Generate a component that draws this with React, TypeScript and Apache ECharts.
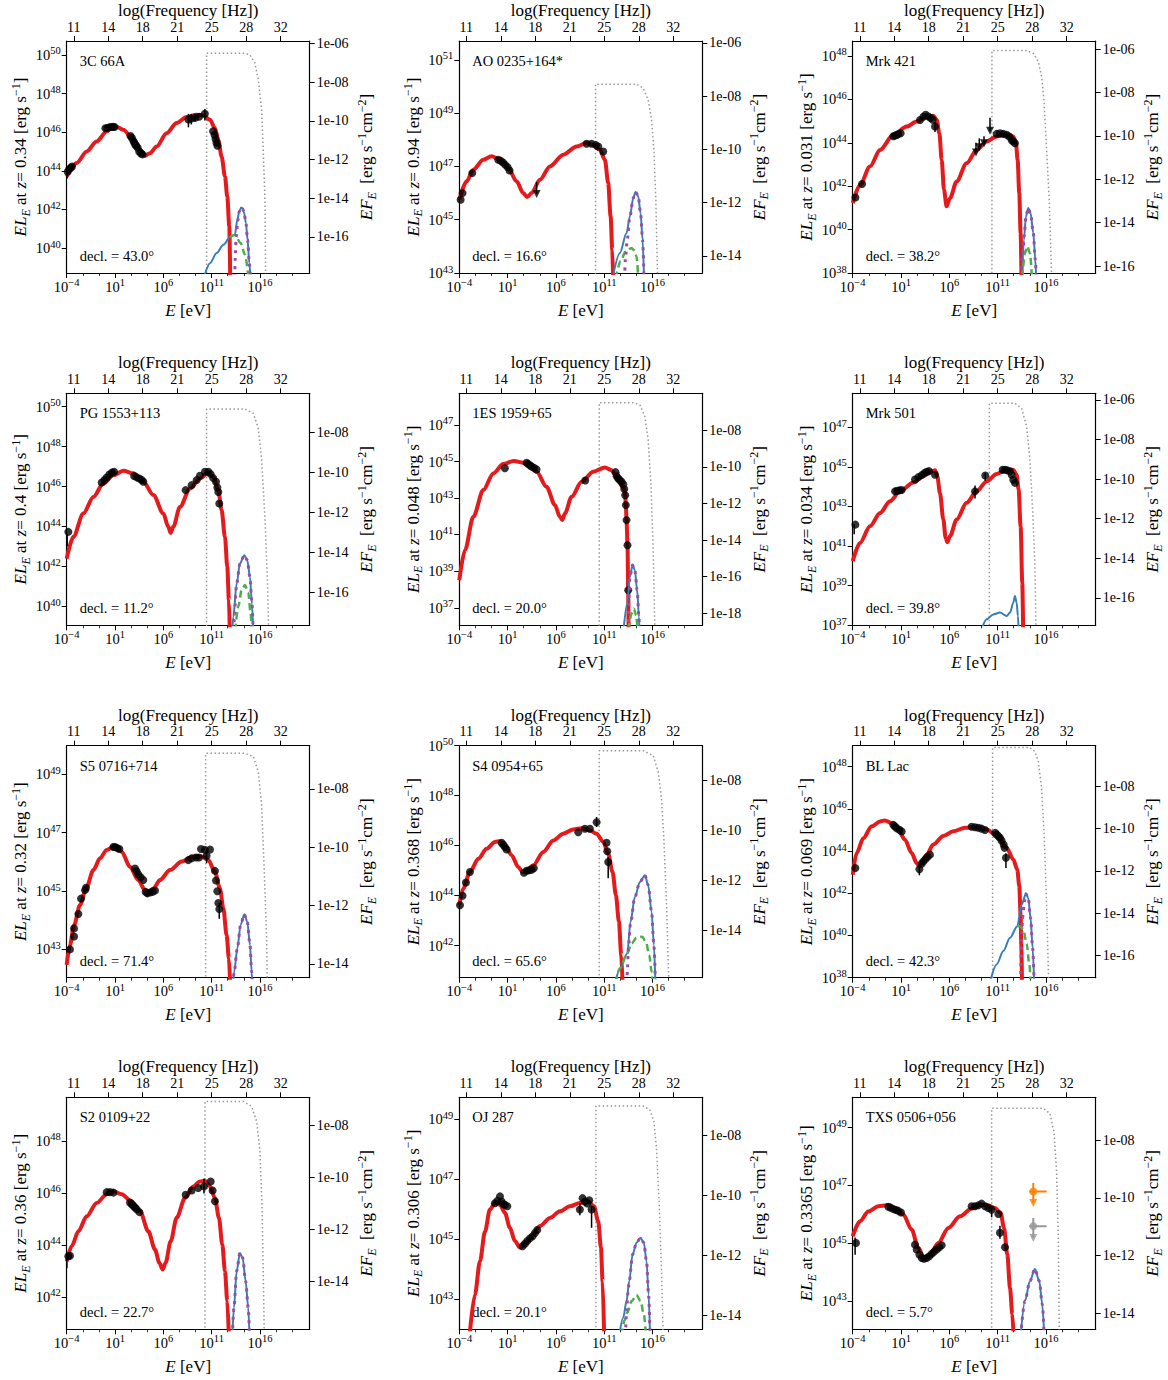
import React, { useEffect, useRef } from 'react';
import * as echarts from 'echarts';

const FONT = '"Liberation Serif", "Times New Roman", serif';

// ---- shared axis data (log10 E [eV]) ----
const X_MIN = -4;
const X_MAX = 21.15;
const X_MAJOR = [-4, 1, 6, 11, 16];
const X_MINOR = [-2.333, -0.667, 2.667, 4.333, 7.667, 9.333, 12.667, 14.333, 17.667, 19.333];
const FREQ_POS = [-3.27, 0.3, 3.87, 7.44, 11.01, 14.58, 18.15];
const FREQ_LABELS = ['11', '14', '18', '21', '25', '28', '32'];

const COL_LEFT = [66.7, 459.3, 852.7];
const ROW_TOP = [41, 393.3, 745.7, 1097.3];
const PW = 243;
const PH = 232;

const RED = '#e41a1c';
const BLUE = '#377eb8';
const GREEN = '#4daf4a';
const PURPLE = '#984ea3';
const GREY = '#999999';
const ORANGE = '#ff7f00';

// ---- 3C 66A ----
const c66aRed = [[-4,43.71],[-2.97,44.4],[-1.93,45.0],[-0.9,45.52],[0.14,46.03],[0.7,46.27],[1.3,46.25],[1.86,46.12],[2.9,45.6],[3.59,45.09],[4.1,44.78],[4.62,44.91],[5.31,45.26],[6.34,45.95],[7.38,46.47],[8.41,46.78],[9.45,46.9],[10.14,46.86],[10.83,46.64],[11.34,46.21],[11.69,45.6],[12.03,44.74],[12.38,43.71],[12.62,42.67],[12.83,41.12],[12.92,38.5]];
const c66aPts = [[-3.9,43.95],[-3.75,44.08],[-3.6,44.15],[-3.45,44.22],[0.0,46.2],[0.2,46.22],[0.4,46.25],[0.6,46.27],[0.8,46.28],[0.95,46.27],[2.6,45.8],[2.75,45.7],[2.9,45.55],[3.0,45.45],[3.1,45.35],[3.2,45.3],[3.35,45.2],[3.5,45.0],[3.7,44.9],[3.85,44.85],[8.6,46.65],[8.9,46.7],[9.3,46.75],[9.7,46.8],[10.3,46.95],[11.15,46.05],[11.3,45.85],[11.4,45.65],[11.5,45.45],[11.6,45.3]];
const c66aErr = [[-3.95,43.6,44.1],[8.6,46.25,46.95],[8.9,46.4,46.95],[9.3,46.55,46.95],[10.3,46.6,47.2]];
const c66aUl: number[][] = [];
const c66aBlue = [[10.21,38.5],[10.83,39.22],[11.52,39.74],[12.21,40.17],[12.9,40.57],[13.41,40.69],[13.66,41.47],[13.86,41.9],[14.05,42.1],[14.2,42.05],[14.35,41.85],[14.55,41.3],[14.72,40.43],[14.9,39.22],[15.02,38.5]];
const c66aPurple = [[13.4,38.5],[13.45,39.7],[13.55,40.6],[13.7,41.4],[13.86,41.9],[14.05,42.1],[14.2,42.05],[14.35,41.85],[14.55,41.3],[14.72,40.43],[14.9,39.22],[15.02,38.5]];
const c66aGreen = [[12.9,40.57],[13.41,40.69],[14.0,40.26],[14.45,39.66],[14.8,38.5]];
const c66aGrey = [[10.48,38.5],[10.48,50.09],[14.45,50.09],[14.97,50.0],[15.48,49.57],[15.83,48.71],[16.17,47.16],[16.34,45.09],[16.52,42.5],[16.59,38.5]];

// ---- AO 0235+164 ----
const aoRed = [[-4,45.75],[-3.24,46.44],[-2.55,46.88],[-1.52,47.25],[-0.66,47.38],[0.21,47.25],[1.07,46.94],[1.93,46.44],[2.62,46.0],[3.03,45.85],[3.48,46.0],[4.34,46.5],[5.38,47.0],[6.76,47.44],[8.14,47.75],[9.17,47.88],[9.86,47.81],[10.55,47.63],[11.07,47.25],[11.41,46.38],[11.66,45.13],[11.83,43.88],[11.92,42.8]];
const aoPts = [[-3.86,45.75],[-3.66,46.0],[-2.66,46.75],[0.03,47.25],[0.3,47.21],[0.52,47.15],[0.76,47.06],[1.0,46.97],[1.2,46.85],[9.17,47.85],[9.69,47.85],[10.14,47.8],[10.38,47.75],[10.9,47.56]];
const aoErr = [[4.0,45.97,46.42]];
const aoUl = [[4.0,45.97]];
const aoBlue = [[11.86,42.8],[12.62,43.75],[13.31,44.5],[13.66,45.13],[14.0,45.81],[14.24,46.04],[14.52,45.88],[14.76,45.25],[14.97,44.25],[15.12,42.8]];
const aoPurple = [[13.1,42.8],[13.21,43.63],[13.38,44.25],[13.66,45.13],[14.0,45.81],[14.24,46.04],[14.52,45.88],[14.76,45.25],[14.97,44.25],[15.12,42.8]];
const aoGreen = [[12.2,42.8],[12.7,43.45],[13.2,43.8],[13.83,43.94],[14.1,43.85],[14.34,43.63],[14.52,42.8]];
const aoGrey = [[10.1,42.8],[10.1,50.09],[14.34,50.09],[15.03,49.94],[15.55,49.5],[15.9,48.75],[16.14,47.63],[16.34,45.75],[16.52,42.8]];

// ---- Mrk 421 ----
const m421Red = [[-4,41.22],[-3.24,42.06],[-2.21,42.91],[-1.17,43.67],[0.21,44.37],[1.59,44.75],[2.62,44.98],[3.66,45.21],[4.34,45.24],[4.69,45.06],[4.97,44.44],[5.21,43.21],[5.45,41.83],[5.72,41.07],[6.07,41.45],[6.76,42.22],[7.79,43.06],[8.83,43.67],[9.86,44.06],[10.9,44.29],[11.93,44.37],[12.62,44.29],[12.9,43.98],[13.07,43.21],[13.24,41.68],[13.38,39.84],[13.47,37.8]];
const m421Pts = [[-3.72,41.48],[-3.03,42.1],[0.21,44.3],[0.38,44.33],[0.55,44.36],[0.72,44.4],[0.97,44.44],[2.97,45.05],[3.31,45.2],[3.55,45.29],[3.83,45.21],[4.07,45.14],[4.28,45.06],[4.52,44.75],[10.9,44.41],[11.24,44.44],[11.59,44.41],[11.93,44.37],[12.21,44.29],[12.45,44.13],[12.62,44.06],[12.79,43.98]];
const m421Err = [[4.52,44.5,44.95],[8.76,43.55,44.0],[9.1,43.8,44.2],[9.59,43.98,44.3],[10.21,44.55,45.15]];
const m421Ul = [[8.76,43.55],[9.1,43.8],[9.59,43.98],[10.21,44.55]];
const m421Blue = [[13.52,37.8],[13.72,39.53],[13.93,40.6],[14.17,40.99],[14.41,40.76],[14.69,39.84],[14.9,38.61],[14.99,37.8]];
const m421Purple = [[13.45,37.8],[13.6,38.9],[13.75,39.7],[13.93,40.6],[14.17,40.99],[14.41,40.76],[14.69,39.84],[14.9,38.61],[14.99,37.8]];
const m421Green = [[13.55,37.8],[13.83,38.92],[14.07,39.23],[14.34,38.92],[14.55,37.8]];
const m421Grey = [[10.41,37.8],[10.41,48.25],[14.0,48.25],[14.69,48.12],[15.21,47.74],[15.55,47.05],[15.79,45.98],[16.07,43.67],[16.34,41.37],[16.59,37.8]];

// ---- PG 1553+113 ----
const pgRed = [[-4,42.39],[-3.31,43.48],[-2.28,44.65],[-1.24,45.48],[-0.21,46.15],[0.83,46.57],[1.86,46.79],[2.9,46.66],[3.93,46.24],[4.97,45.57],[6.0,44.65],[6.52,43.98],[6.76,43.68],[7.03,43.98],[7.72,44.98],[8.76,45.9],[9.79,46.4],[10.66,46.69],[11.17,46.49],[11.69,45.82],[12.03,44.82],[12.38,43.48],[12.62,41.97],[12.79,40.3],[12.88,38.8]];
const pgPts = [[-3.83,43.73],[-0.38,46.2],[-0.1,46.33],[0.14,46.45],[0.41,46.6],[0.69,46.7],[0.9,46.74],[2.97,46.53],[3.24,46.46],[3.52,46.4],[3.76,46.33],[3.93,46.24],[8.31,45.82],[8.93,46.07],[9.45,46.32],[9.79,46.54],[10.31,46.74],[10.66,46.74],[10.9,46.62],[11.17,46.42],[11.45,46.24],[11.59,45.95],[11.69,45.73],[11.79,45.15]];
const pgErr = [[-3.95,43.0,43.6]];
const pgUl: number[][] = [];
const pgBlue = [[13.14,38.8],[13.24,39.47],[13.59,41.14],[13.93,42.14],[14.38,42.56],[14.69,42.31],[14.97,41.47],[15.17,40.13],[15.3,38.8]];
const pgPurple = [[13.3,38.8],[13.35,39.6],[13.59,41.14],[13.93,42.14],[14.38,42.56],[14.69,42.31],[14.97,41.47],[15.17,40.13],[15.3,38.8]];
const pgGreen = [[13.45,38.8],[13.76,40.0],[14.1,40.79],[14.45,41.07],[14.79,40.69],[15.03,39.7],[15.14,38.8]];
const pgGrey = [[10.48,38.8],[10.48,49.88],[14.45,49.88],[15.31,49.67],[15.83,48.91],[16.17,47.41],[16.52,44.4],[16.79,41.14],[16.9,38.8]];

// ---- 1ES 1959+65 ----
const es1959Red = [[-4,38.51],[-3.41,40.16],[-2.55,41.98],[-1.52,43.44],[-0.48,44.35],[0.55,44.86],[1.59,45.03],[2.97,44.9],[4.0,44.44],[5.03,43.62],[5.9,42.62],[6.41,41.98],[6.66,41.8],[6.93,42.16],[7.62,43.07],[8.66,43.89],[9.86,44.44],[11.07,44.68],[11.76,44.53],[12.28,44.15],[12.55,43.89],[12.9,43.6],[13.07,43.5],[13.17,43.16],[13.24,42.62],[13.31,41.8],[13.41,40.43],[13.48,37.97],[13.52,35.8]];
const es1959Pts = [[0.72,44.63],[2.97,44.93],[3.14,44.86],[3.31,44.8],[3.48,44.73],[3.72,44.66],[4.0,44.57],[9.03,43.96],[12.17,44.42],[12.28,44.2],[12.45,44.07],[12.62,43.98],[12.79,43.9],[12.97,43.76],[13.07,43.5],[13.17,43.16],[13.24,42.62],[13.31,41.8],[13.41,40.43],[13.48,37.97]];
const es1959Err: number[][] = [];
const es1959Ul: number[][] = [];
const es1959Blue = [[13.0,35.8],[13.38,37.24],[13.66,38.7],[13.93,39.34],[14.17,39.06],[14.41,37.97],[14.59,36.51],[14.65,35.8]];
const es1959Purple = [[13.5,35.8],[13.55,37.5],[13.66,38.7],[13.93,39.34],[14.17,39.06],[14.41,37.97],[14.59,36.51],[14.65,35.8]];
const es1959Green = [[13.5,35.8],[13.83,36.69],[14.07,36.96],[14.3,36.6],[14.45,35.8]];
const es1959Grey = [[10.48,35.8],[10.48,48.22],[14.0,48.22],[14.69,48.09],[15.21,47.45],[15.55,46.18],[15.83,43.81],[16.07,40.16],[16.24,35.8]];

// ---- Mrk 501 ----
const m501Red = [[-4,40.24],[-3.24,41.16],[-2.21,42.0],[-1.17,42.67],[-0.14,43.26],[0.9,43.76],[2.28,44.21],[3.31,44.52],[4.17,44.77],[4.52,44.82],[4.76,44.52],[5.03,43.68],[5.38,42.34],[5.62,41.41],[5.79,41.19],[6.07,41.5],[6.76,42.34],[7.79,43.18],[8.83,43.76],[9.86,44.26],[10.9,44.64],[11.93,44.85],[12.62,44.85],[12.97,44.6],[13.17,43.85],[13.38,42.0],[13.55,39.15],[13.64,36.8]];
const m501Pts = [[-3.72,42.08],[0.38,43.76],[0.62,43.79],[0.83,43.81],[1.07,43.83],[2.45,44.36],[2.79,44.48],[3.14,44.58],[3.41,44.68],[3.66,44.75],[3.9,44.78],[4.52,44.6],[8.66,43.76],[9.72,44.56],[11.52,44.85],[11.76,44.85],[12.0,44.82],[12.28,44.77],[12.45,44.6],[12.62,44.35],[12.79,44.19]];
const m501Err = [[-3.85,41.6,42.1],[8.66,43.4,44.05],[9.72,44.3,44.7]];
const m501Ul: number[][] = [];
const m501Blue = [[9.34,36.8],[9.86,37.3],[10.55,37.55],[11.24,37.64],[11.93,37.47],[12.28,37.64],[12.62,38.14],[12.79,38.48],[12.97,38.14],[13.1,37.47],[13.17,36.8]];
const m501Purple: number[][] = [];
const m501Green: number[][] = [];
const m501Grey = [[10.14,36.8],[10.14,48.21],[12.79,48.21],[13.48,47.96],[14.0,47.03],[14.34,45.36],[14.62,42.84],[14.86,39.99],[14.97,36.8]];

// ---- S5 0716+714 ----
const s5Red = [[-4,42.47],[-3.66,43.15],[-3.24,43.83],[-2.62,44.52],[-1.93,45.15],[-1.24,45.72],[-0.55,46.12],[0.14,46.41],[1.0,46.55],[1.69,46.35],[2.55,45.83],[3.41,45.38],[4.1,45.03],[4.45,44.97],[4.97,45.09],[5.66,45.38],[6.69,45.72],[7.9,46.01],[9.1,46.18],[9.97,46.18],[10.66,46.06],[11.34,45.66],[11.86,45.09],[12.21,44.41],[12.55,43.49],[12.79,42.69],[12.92,41.8]];
const s5Pts = [[-3.66,43.0],[-3.24,43.44],[-3.24,43.72],[-2.79,44.21],[-2.52,44.74],[-2.1,45.03],[-2.0,45.11],[0.83,46.51],[1.0,46.51],[1.24,46.47],[1.45,46.44],[3.07,45.77],[3.24,45.68],[3.41,45.57],[3.66,45.47],[3.93,45.38],[4.17,44.97],[4.34,44.92],[4.62,44.95],[4.9,44.97],[5.14,45.02],[8.59,46.06],[8.93,46.12],[9.38,46.15],[9.69,46.15],[9.9,46.44],[10.31,46.41],[10.48,46.21],[10.83,46.42],[11.34,45.69],[11.45,45.36],[11.59,44.99],[11.69,44.59],[11.79,44.38]];
const s5Err = [[10.48,45.95,46.45],[11.79,44.05,44.6],[4.34,44.8,45.05]];
const s5Ul: number[][] = [];
const s5Blue = [[13.2,41.8],[13.34,42.24],[13.66,43.04],[14.0,43.84],[14.38,44.2],[14.69,43.95],[14.97,43.15],[15.14,42.24],[15.2,41.8]];
const s5Purple = [[13.2,41.8],[13.34,42.24],[13.66,43.04],[14.0,43.84],[14.38,44.2],[14.69,43.95],[14.97,43.15],[15.14,42.24],[15.2,41.8]];
const s5Green: number[][] = [];
const s5Grey = [[10.38,41.8],[10.38,49.72],[14.45,49.72],[15.31,49.61],[15.83,49.09],[16.17,47.95],[16.45,45.66],[16.69,43.38],[16.76,41.8]];

// ---- S4 0954+65 ----
const s4Red = [[-4,43.62],[-3.59,44.29],[-2.9,44.95],[-2.03,45.48],[-1.17,45.88],[-0.31,46.15],[0.21,46.18],[0.72,46.02],[1.41,45.62],[2.1,45.15],[2.55,44.95],[2.97,45.02],[3.66,45.22],[4.69,45.75],[5.72,46.21],[6.76,46.48],[7.79,46.65],[8.66,46.7],[9.52,46.61],[10.21,46.48],[10.9,46.15],[11.41,45.68],[11.86,44.95],[12.21,44.02],[12.52,42.96],[12.76,41.63],[12.9,40.5]];
const s4Pts = [[-3.93,43.62],[-3.66,44.0],[-3.31,44.53],[-2.9,44.95],[0.38,46.12],[0.55,46.04],[0.72,45.95],[0.9,45.85],[2.69,44.92],[2.97,45.0],[3.24,45.02],[3.48,45.04],[3.72,45.1],[8.31,46.54],[9.0,46.68],[9.52,46.68],[10.21,46.94],[11.24,46.12],[11.31,45.78],[11.41,45.35]];
const s4Err = [[10.21,46.75,47.15],[11.41,44.7,45.55],[-4.0,43.3,43.7]];
const s4Ul: number[][] = [];
const s4Blue = [[12.14,40.5],[12.62,41.09],[13.38,41.69],[13.72,42.95],[14.17,43.95],[14.69,44.55],[15.21,44.82],[15.55,44.42],[15.9,43.36],[16.14,42.03],[16.3,40.5]];
const s4Purple = [[13.36,40.5],[13.4,41.1],[13.5,41.9],[13.72,42.9],[14.17,43.95],[14.69,44.55],[15.21,44.82],[15.55,44.42],[15.9,43.36],[16.14,42.03],[16.3,40.5]];
const s4Green = [[12.14,40.5],[12.62,41.09],[13.38,41.69],[13.83,42.09],[14.34,42.32],[14.93,42.36],[15.31,42.16],[15.66,41.63],[15.9,40.96],[16.0,40.5]];
const s4Grey = [[10.48,40.5],[10.48,49.8],[15.03,49.8],[16.07,49.6],[16.59,48.94],[16.93,47.87],[17.17,46.28],[17.45,43.62],[17.69,40.5]];

// ---- BL Lac ----
const bllRed = [[-4,42.88],[-3.59,43.91],[-2.9,44.61],[-2.03,45.17],[-1.17,45.4],[-0.66,45.45],[0.03,45.32],[0.72,45.0],[1.41,44.54],[2.1,43.91],[2.62,43.43],[2.9,43.27],[3.14,43.43],[3.66,43.83],[4.34,44.31],[5.38,44.71],[6.41,44.94],[7.62,45.1],[8.83,45.15],[9.86,45.02],[10.9,44.74],[11.93,44.16],[12.62,43.6],[13.03,43.13],[13.24,42.35],[13.38,40.93],[13.45,39.57],[13.52,37.8]];
const bllPts = [[-3.72,43.2],[0.21,45.24],[0.38,45.16],[0.55,45.08],[0.83,45.01],[1.07,44.93],[2.9,43.14],[3.14,43.4],[3.31,43.51],[3.55,43.62],[3.76,43.73],[4.0,43.83],[8.31,45.15],[8.66,45.13],[9.0,45.1],[9.34,45.06],[9.69,45.0],[10.76,44.86],[10.9,44.78],[11.07,44.7],[11.24,44.63],[11.41,44.5],[11.62,44.31],[11.72,44.15],[11.86,43.68]];
const bllErr = [[2.9,42.85,43.4],[11.86,43.2,43.9]];
const bllUl: number[][] = [];
const bllBlue = [[10.21,37.8],[10.9,38.63],[11.59,39.26],[12.28,39.89],[13.03,40.44],[13.48,41.46],[13.93,41.98],[14.17,41.78],[14.41,40.83],[14.62,39.42],[14.78,37.8]];
const bllPurple = [[13.38,37.8],[13.45,39.57],[13.59,40.83],[13.76,41.6],[13.93,41.98],[14.17,41.78],[14.41,40.83],[14.62,39.42],[14.78,37.8]];
const bllGreen = [[13.03,40.44],[13.31,40.44],[13.66,40.28],[14.0,39.61],[14.28,38.66],[14.41,37.8]];
const bllGrey = [[10.48,37.8],[10.48,48.9],[14.34,48.9],[14.86,48.71],[15.21,48.24],[15.55,46.98],[15.83,44.61],[16.07,41.46],[16.28,37.8]];

// ---- S2 0109+22 ----
const s2Red = [[-4,43.37],[-3.48,43.95],[-2.79,44.52],[-1.93,45.1],[-0.9,45.61],[0.14,45.95],[0.83,46.06],[1.69,45.95],[2.72,45.67],[3.59,45.29],[4.45,44.52],[5.14,43.82],[5.59,43.31],[5.93,43.05],[6.24,43.31],[6.76,44.14],[7.38,45.04],[8.24,45.8],[9.1,46.25],[9.79,46.44],[10.31,46.47],[10.83,46.25],[11.34,45.8],[11.76,45.04],[12.1,44.02],[12.38,42.99],[12.62,41.84],[12.78,40.5]];
const s2Pts = [[-3.83,43.56],[-3.66,43.58],[0.14,46.03],[0.48,46.03],[0.83,46.01],[2.55,45.63],[2.72,45.56],[2.9,45.5],[3.07,45.44],[3.24,45.37],[3.52,45.26],[8.31,45.93],[8.93,46.09],[9.62,46.19],[10.21,46.25],[10.9,46.44],[11.1,46.09],[11.34,45.68]];
const s2Err = [[-3.98,43.1,43.5],[10.21,45.98,46.55]];
const s2Ul: number[][] = [];
const s2Blue = [[13.14,40.5],[13.31,41.58],[13.59,42.99],[13.93,43.69],[14.21,43.5],[14.52,42.6],[14.79,41.58],[14.92,40.5]];
const s2Purple = [[13.14,40.5],[13.31,41.58],[13.59,42.99],[13.93,43.69],[14.21,43.5],[14.52,42.6],[14.79,41.58],[14.92,40.5]];
const s2Green: number[][] = [];
const s2Grey = [[10.31,40.5],[10.31,49.52],[14.28,49.52],[15.14,49.33],[15.66,48.75],[16.0,47.6],[16.21,45.56],[16.34,43.0],[16.45,40.5]];

// ---- OJ 287 ----
const ojRed = [[-2.93,41.8],[-2.38,43.16],[-1.86,44.27],[-1.34,45.26],[-0.83,45.99],[-0.31,46.21],[0.21,46.15],[0.72,45.88],[1.24,45.38],[1.76,44.94],[2.28,44.72],[2.79,44.83],[3.48,45.1],[4.34,45.44],[5.38,45.71],[6.41,45.93],[7.45,46.1],[8.48,46.21],[9.34,46.27],[9.93,46.1],[10.38,45.6],[10.66,44.72],[10.83,43.61],[10.99,41.8]];
const ojPts = [[-0.31,46.2],[-0.07,46.28],[0.21,46.43],[0.38,46.26],[0.55,46.17],[0.72,46.15],[0.97,46.1],[2.55,44.77],[2.79,44.85],[3.03,44.94],[3.31,45.03],[3.59,45.1],[3.83,45.21],[4.07,45.31],[8.48,45.99],[8.76,46.37],[9.0,46.26],[9.24,46.19],[9.45,46.3],[9.69,45.99]];
const ojErr = [[8.48,45.8,46.2],[9.69,45.38,46.1]];
const ojUl: number[][] = [];
const ojBlue = [[12.55,41.8],[12.97,42.39],[13.31,42.94],[13.59,43.61],[13.93,44.49],[14.34,44.88],[14.76,45.05],[15.1,44.88],[15.38,44.27],[15.59,43.16],[15.74,41.8]];
const ojPurple = [[13.2,41.8],[13.31,42.6],[13.45,43.2],[13.59,43.61],[13.93,44.49],[14.34,44.88],[14.76,45.05],[15.1,44.88],[15.38,44.27],[15.59,43.16],[15.74,41.8]];
const ojGreen = [[12.8,41.8],[13.1,42.3],[13.38,42.55],[13.83,42.94],[14.34,43.14],[14.76,42.94],[15.1,42.5],[15.31,41.8]];
const ojGrey = [[10.14,41.8],[10.14,49.44],[15.03,49.44],[15.72,49.31],[16.14,48.92],[16.41,48.03],[16.69,46.15],[16.93,43.94],[17.1,41.8]];

// ---- TXS 0506+056 ----
const txsRed = [[-4,45.24],[-3.24,45.76],[-2.38,46.1],[-1.34,46.28],[-0.48,46.31],[0.38,46.22],[1.24,45.99],[2.1,45.47],[2.79,44.84],[3.38,44.49],[4.0,44.61],[4.86,45.01],[5.9,45.53],[7.1,45.93],[8.31,46.2],[9.34,46.33],[10.03,46.31],[10.72,46.22],[11.31,46.05],[11.66,45.53],[12.0,44.61],[12.28,43.46],[12.52,42.54],[12.65,41.8]];
const txsPts = [[-3.66,45.01],[-0.31,46.26],[-0.07,46.23],[0.21,46.18],[0.48,46.15],[0.72,46.12],[1.0,46.06],[2.45,44.95],[2.62,44.78],[2.9,44.61],[3.14,44.49],[3.38,44.46],[3.66,44.49],[3.93,44.55],[4.17,44.63],[4.41,44.7],[4.69,44.78],[4.97,44.86],[5.21,44.93],[8.31,46.28],[8.66,46.28],[9.0,46.31],[9.34,46.37],[9.69,46.28],[10.03,46.22],[10.38,46.16],[11.07,46.01],[11.24,45.36],[11.76,44.86]];
const txsErr = [[-3.75,44.6,45.2],[10.38,45.9,46.3],[11.24,45.15,45.6]];
const txsUl: number[][] = [];
const txsBlue = [[13.38,41.8],[13.83,43.0],[14.34,43.69],[14.86,44.11],[15.31,43.69],[15.62,42.89],[15.82,41.8]];
const txsPurple = [[13.38,41.8],[13.83,43.0],[14.34,43.69],[14.86,44.11],[15.31,43.69],[15.62,42.89],[15.82,41.8]];
const txsGreen: number[][] = [];
const txsGrey = [[10.38,41.8],[10.38,49.67],[15.72,49.67],[16.41,49.49],[16.83,48.86],[17.1,47.48],[17.28,45.18],[17.38,41.8]];
// neutrino flux limits: [logE, logL, errLow, errHigh, eLow, eHigh]
const txsOrangeLim = [[14.69, 46.79, 46.39, 47.08, 14.28, 16.07]];
const txsGreyLim = [[14.69, 45.59, 45.18, 45.87, 14.28, 16.07]];

const PANELS = [
  { name: '3C 66A', z: '0.34', decl: '43.0', yMin: 38.71, yMax: 50.72, off: 56.58, lt: [40,42,44,46,48,50], rt: [-6,-8,-10,-12,-14,-16], red: c66aRed, pts: c66aPts, err: c66aErr, ul: c66aUl, blue: c66aBlue, purple: c66aPurple, green: c66aGreen, grey: c66aGrey },
  { name: 'AO 0235+164*', z: '0.94', decl: '16.6', yMin: 43, yMax: 51.71, off: 57.64, lt: [43,45,47,49,51], rt: [-6,-8,-10,-12,-14], red: aoRed, pts: aoPts, err: aoErr, ul: aoUl, blue: aoBlue, purple: aoPurple, green: aoGreen, grey: aoGrey },
  { name: 'Mrk 421', z: '0.031', decl: '38.2', yMin: 38, yMax: 48.69, off: 54.32, lt: [38,40,42,44,46,48], rt: [-6,-8,-10,-12,-14,-16], red: m421Red, pts: m421Pts, err: m421Err, ul: m421Ul, blue: m421Blue, purple: m421Purple, green: m421Green, grey: m421Grey },
  { name: 'PG 1553+113', z: '0.4', decl: '11.2', yMin: 39.05, yMax: 50.67, off: 56.7, lt: [40,42,44,46,48,50], rt: [-8,-10,-12,-14,-16], red: pgRed, pts: pgPts, err: pgErr, ul: pgUl, blue: pgBlue, purple: pgPurple, green: pgGreen, grey: pgGrey },
  { name: '1ES 1959+65', z: '0.048', decl: '20.0', yMin: 36.05, yMax: 48.73, off: 54.71, lt: [37,39,41,43,45,47], rt: [-8,-10,-12,-14,-16,-18], red: es1959Red, pts: es1959Pts, err: es1959Err, ul: es1959Ul, blue: es1959Blue, purple: es1959Purple, green: es1959Green, grey: es1959Grey },
  { name: 'Mrk 501', z: '0.034', decl: '39.8', yMin: 37, yMax: 48.71, off: 54.38, lt: [37,39,41,43,45,47], rt: [-6,-8,-10,-12,-14,-16], red: m501Red, pts: m501Pts, err: m501Err, ul: m501Ul, blue: m501Blue, purple: m501Purple, green: m501Green, grey: m501Grey },
  { name: 'S5 0716+714', z: '0.32', decl: '71.4', yMin: 42.03, yMax: 49.98, off: 56.5, lt: [43,45,47,49], rt: [-8,-10,-12,-14], red: s5Red, pts: s5Pts, err: s5Err, ul: s5Ul, blue: s5Blue, purple: s5Purple, green: s5Green, grey: s5Grey },
  { name: 'S4 0954+65', z: '0.368', decl: '65.6', yMin: 40.72, yMax: 50.0, off: 56.61, lt: [42,44,46,48,50], rt: [-8,-10,-12,-14], red: s4Red, pts: s4Pts, err: s4Err, ul: s4Ul, blue: s4Blue, purple: s4Purple, green: s4Green, grey: s4Grey },
  { name: 'BL Lac', z: '0.069', decl: '42.3', yMin: 38, yMax: 48.99, off: 55.06, lt: [38,40,42,44,46,48], rt: [-8,-10,-12,-14,-16], red: bllRed, pts: bllPts, err: bllErr, ul: bllUl, blue: bllBlue, purple: bllPurple, green: bllGreen, grey: bllGrey },
  { name: 'S2 0109+22', z: '0.36', decl: '22.7', yMin: 40.75, yMax: 49.68, off: 56.6, lt: [42,44,46,48], rt: [-8,-10,-12,-14], red: s2Red, pts: s2Pts, err: s2Err, ul: s2Ul, blue: s2Blue, purple: s2Purple, green: s2Green, grey: s2Grey },
  { name: 'OJ 287', z: '0.306', decl: '20.1', yMin: 42.0, yMax: 49.73, off: 56.46, lt: [43,45,47,49], rt: [-8,-10,-12,-14], red: ojRed, pts: ojPts, err: ojErr, ul: ojUl, blue: ojBlue, purple: ojPurple, green: ojGreen, grey: ojGrey },
  { name: 'TXS 0506+056', z: '0.3365', decl: '5.7', yMin: 42.02, yMax: 50.05, off: 56.57, lt: [43,45,47,49], rt: [-8,-10,-12,-14], red: txsRed, pts: txsPts, err: txsErr, ul: txsUl, blue: txsBlue, purple: txsPurple, green: txsGreen, grey: txsGrey },
];

const MINUS = '\u2212';

const tickRich = {
  b: { fontFamily: FONT, fontSize: 14.5, lineHeight: 19, color: '#000' },
  s: { fontFamily: FONT, fontSize: 10.5, lineHeight: 11, verticalAlign: 'top', color: '#000' },
};

const nameStyle = () => ({
  fontFamily: FONT,
  fontSize: 17,
  lineHeight: 22,
  color: '#000',
  rich: {
    i: { fontFamily: FONT, fontSize: 17, fontStyle: 'italic', lineHeight: 22, color: '#000' },
    sub: { fontFamily: FONT, fontSize: 12, fontStyle: 'italic', lineHeight: 16, verticalAlign: 'bottom', color: '#000' },
    sup: { fontFamily: FONT, fontSize: 12, lineHeight: 14, verticalAlign: 'top', color: '#000' },
  },
});

const axisLineStyle = { show: true, onZero: false, lineStyle: { color: '#000', width: 1.2 } };

function powLabel(v: number) {
  const n = Math.round(v);
  return '{b|10}{s|' + (n < 0 ? MINUS + Math.abs(n) : String(n)) + '}';
}

function lineSeries(data: number[][], xi: number, yi: number, color: string, width: number, type: any, smooth: number, z: number) {
  return {
    type: 'line', xAxisIndex: xi, yAxisIndex: yi, data, showSymbol: false, symbol: 'none',
    lineStyle: { color, width, type, cap: 'butt' }, smooth, smoothMonotone: smooth ? 'x' : undefined,
    z, silent: true, clip: true, animation: false,
  };
}

function segSeries(segs: number[][], xi: number, yi: number, color: string, width: number, z: number) {
  return {
    type: 'custom', xAxisIndex: xi, yAxisIndex: yi, clip: true, silent: true, z,
    data: segs,
    renderItem: (_p: any, api: any) => {
      const a = api.coord([api.value(0), api.value(1)]);
      const b = api.coord([api.value(2), api.value(3)]);
      return { type: 'line', shape: { x1: a[0], y1: a[1], x2: b[0], y2: b[1] }, style: { stroke: color, lineWidth: width } };
    },
  };
}

function scatterSeries(data: number[][], xi: number, yi: number, color: string, symbol: string, size: number, rotate: number, z: number) {
  return {
    type: 'scatter', xAxisIndex: xi, yAxisIndex: yi, data, symbol, symbolSize: size, symbolRotate: rotate,
    itemStyle: { color }, z, silent: true, clip: true,
  };
}

function buildOption() {
  const grid: any[] = [];
  const xAxis: any[] = [];
  const yAxis: any[] = [];
  const series: any[] = [];
  const graphic: any[] = [];

  PANELS.forEach((p, i) => {
    const col = i % 3;
    const row = Math.floor(i / 3);
    const left = COL_LEFT[col];
    const top = ROW_TOP[row];
    grid.push({ left, top, width: PW, height: PH, containLabel: false });

    const xb = xAxis.length;
    xAxis.push({
      gridIndex: i, type: 'value', position: 'bottom', min: X_MIN, max: X_MAX,
      axisLine: axisLineStyle,
      axisTick: { show: true, customValues: X_MAJOR, length: 5, lineStyle: { color: '#000', width: 1 } },
      axisLabel: { show: true, customValues: X_MAJOR, formatter: (v: number) => powLabel(v), margin: 4, rich: tickRich, fontFamily: FONT, fontSize: 14.5, color: '#000' },
      splitLine: { show: false },
      name: '{i|E} [eV]', nameLocation: 'middle', nameGap: 26, nameTextStyle: nameStyle(),
    });
    xAxis.push({
      gridIndex: i, type: 'value', position: 'top', min: X_MIN, max: X_MAX,
      axisLine: axisLineStyle,
      axisTick: { show: true, customValues: FREQ_POS, length: 5, lineStyle: { color: '#000', width: 1 } },
      axisLabel: {
        show: true, customValues: FREQ_POS, margin: 7, fontFamily: FONT, fontSize: 14, color: '#000',
        formatter: (v: number) => {
          let best = 0;
          FREQ_POS.forEach((f, k) => { if (Math.abs(f - v) < Math.abs(FREQ_POS[best] - v)) best = k; });
          return FREQ_LABELS[best];
        },
      },
      splitLine: { show: false },
      name: 'log(Frequency [Hz])', nameLocation: 'middle', nameGap: 21,
      nameTextStyle: { fontFamily: FONT, fontSize: 17, color: '#000' },
    });
    xAxis.push({
      gridIndex: i, type: 'value', position: 'bottom', min: X_MIN, max: X_MAX,
      axisLine: { show: false, onZero: false },
      axisTick: { show: true, customValues: X_MINOR, length: 3, lineStyle: { color: '#000', width: 0.8 } },
      axisLabel: { show: false },
      splitLine: { show: false },
    });

    const yl = yAxis.length;
    yAxis.push({
      gridIndex: i, type: 'value', position: 'left', min: p.yMin, max: p.yMax,
      axisLine: axisLineStyle,
      axisTick: { show: true, customValues: p.lt, length: 5, lineStyle: { color: '#000', width: 1 } },
      axisLabel: { show: true, customValues: p.lt, formatter: (v: number) => powLabel(v), margin: 6, rich: tickRich, fontFamily: FONT, fontSize: 14.5, color: '#000' },
      splitLine: { show: false },
      name: '{i|EL}{sub|E} at {i|z}= ' + p.z + ' [erg s{sup|' + MINUS + '1}]',
      nameLocation: 'middle', nameGap: 35, nameRotate: 90, nameTextStyle: nameStyle(),
    });
    yAxis.push({
      gridIndex: i, type: 'value', position: 'right', min: p.yMin - p.off, max: p.yMax - p.off,
      axisLine: axisLineStyle,
      axisTick: { show: true, customValues: p.rt, length: 5, lineStyle: { color: '#000', width: 1 } },
      axisLabel: {
        show: true, customValues: p.rt, margin: 7, fontFamily: FONT, fontSize: 14, color: '#000',
        formatter: (v: number) => '1e-' + String(Math.abs(Math.round(v))).padStart(2, '0'),
      },
      splitLine: { show: false },
      name: '{i|EF}{sub|E}  [erg s{sup|' + MINUS + '1}cm{sup|' + MINUS + '2}]',
      nameLocation: 'middle', nameGap: 46, nameRotate: 90, nameTextStyle: nameStyle(),
    });

    series.push(lineSeries(p.grey, xb, yl, GREY, 1.5, [1.5, 2.5], 0, 1));
    series.push(lineSeries(p.red, xb, yl, RED, 4, 'solid', 0.3, 2));
    series.push(segSeries(p.err.map((e) => [e[0], e[1], e[0], e[2]]), xb, yl, '#000', 1.5, 3));
    series.push(scatterSeries(p.pts, xb, yl, '#000', 'circle', 8, 0, 4));
    if (p.ul.length) series.push(scatterSeries(p.ul, xb, yl, '#000', 'triangle', 8, 180, 4));
    if (p.blue.length) series.push(lineSeries(p.blue, xb, yl, BLUE, 2, 'solid', 0.3, 5));
    if (p.green.length) series.push(lineSeries(p.green, xb, yl, GREEN, 2.5, [7, 4], 0.3, 6));
    if (p.purple.length) series.push(lineSeries(p.purple, xb, yl, PURPLE, 3, [3, 5], 0.3, 7));

    if (i === 11) {
      [[txsOrangeLim, ORANGE], [txsGreyLim, GREY]].forEach(([lim, c]: any) => {
        const segs: number[][] = [];
        lim.forEach((d: number[]) => {
          segs.push([d[0], d[2], d[0], d[3]]);
          segs.push([d[4], d[1], d[5], d[1]]);
        });
        series.push(segSeries(segs, xb, yl, c, 2, 8));
        series.push(scatterSeries(lim.map((d: number[]) => [d[0], d[1]]), xb, yl, c, 'circle', 8, 0, 9));
        series.push(scatterSeries(lim.map((d: number[]) => [d[0], d[2]]), xb, yl, c, 'triangle', 8, 180, 9));
      });
    }

    graphic.push({
      type: 'text', x: left + 13, y: top + 20, silent: true,
      style: { text: p.name, fontFamily: FONT, fontSize: 14.5, fill: '#000', verticalAlign: 'middle', textVerticalAlign: 'middle' },
    });
    graphic.push({
      type: 'text', x: left + 13, y: top + PH - 17, silent: true,
      style: { text: 'decl. = ' + p.decl + '\u00b0', fontFamily: FONT, fontSize: 14.5, fill: '#000', verticalAlign: 'middle', textVerticalAlign: 'middle' },
    });
  });

  return { animation: false, backgroundColor: '#fff', grid, xAxis, yAxis, series, graphic };
}

export default function App() {
  const ref = useRef<HTMLDivElement>(null);
  useEffect(() => {
    if (!ref.current) return;
    const chart = echarts.init(ref.current, undefined, { renderer: 'svg' });
    chart.setOption(buildOption() as any);
    return () => chart.dispose();
  }, []);
  return <div ref={ref} style={{ position: 'absolute', left: 0, top: 0, width: 1168, height: 1380, background: '#fff' }} />;
}
